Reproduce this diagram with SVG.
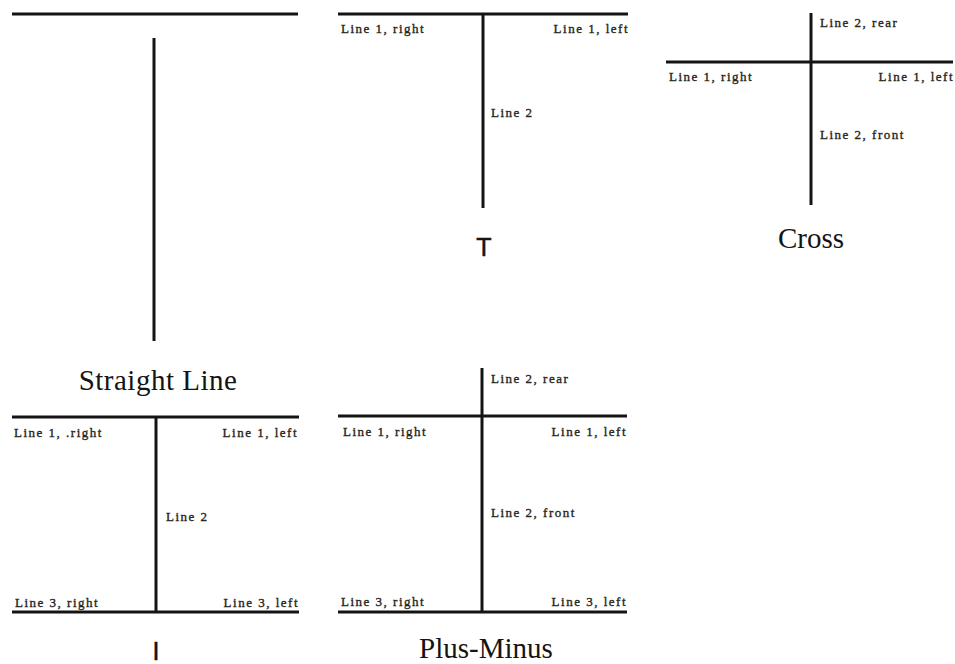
<svg xmlns="http://www.w3.org/2000/svg" width="955" height="664" viewBox="0 0 955 664">
<style>
.ln{stroke:#141414;stroke-width:3;stroke-linecap:butt;fill:none}
.lb{font-family:"Liberation Serif","DejaVu Serif",serif;font-size:13px;letter-spacing:1.5px;fill:#26261a;stroke:#26261a;stroke-width:0.35}
.end{text-anchor:end}
.cap{font-family:"Liberation Serif","DejaVu Serif",serif;font-size:29px;fill:#141414;text-anchor:middle}
.capS{font-family:"Liberation Sans","DejaVu Sans",sans-serif;font-size:25px;fill:#141414;stroke:#141414;stroke-width:0.5;text-anchor:middle}
</style>
<rect width="955" height="664" fill="#ffffff"/>
<g id="connectors">
  <!-- Straight Line -->
  <line class="ln" x1="12" y1="14" x2="298" y2="14"/>
  <line class="ln" x1="154" y1="38" x2="154" y2="341"/>
  <!-- T -->
  <line class="ln" x1="338" y1="14" x2="628" y2="14"/>
  <line class="ln" x1="483" y1="14" x2="483" y2="208"/>
  <!-- Cross -->
  <line class="ln" x1="666" y1="62" x2="953" y2="62"/>
  <line class="ln" x1="811" y1="13" x2="811" y2="205"/>
  <!-- I -->
  <line class="ln" x1="12" y1="417" x2="299" y2="417"/>
  <line class="ln" x1="156" y1="417" x2="156" y2="612"/>
  <line class="ln" x1="12" y1="612" x2="299" y2="612"/>
  <!-- Plus-Minus -->
  <line class="ln" x1="338" y1="416" x2="627" y2="416"/>
  <line class="ln" x1="482" y1="368" x2="482" y2="612"/>
  <line class="ln" x1="338" y1="612" x2="627" y2="612"/>
</g>
<g id="straight-line">
  <text class="cap" x="158" y="390" style="letter-spacing:0.5px">Straight Line</text>
</g>
<g id="t-junction">
  <text class="lb" x="341" y="33">Line 1, right</text>
  <text class="lb end" x="629" y="33">Line 1, left</text>
  <text class="lb" x="491" y="117">Line 2</text>
  <text class="capS" x="484" y="256">T</text>
</g>
<g id="cross">
  <text class="lb" x="820" y="27">Line 2, rear</text>
  <text class="lb" x="669" y="81">Line 1, right</text>
  <text class="lb end" x="954" y="81">Line 1, left</text>
  <text class="lb" x="820" y="139">Line 2, front</text>
  <text class="cap" x="811" y="248">Cross</text>
</g>
<g id="i-junction">
  <text class="lb" x="14" y="437">Line 1, .right</text>
  <text class="lb end" x="298" y="437">Line 1, left</text>
  <text class="lb" x="166" y="521">Line 2</text>
  <text class="lb" x="15" y="607">Line 3, right</text>
  <text class="lb end" x="299" y="607">Line 3, left</text>
  <text class="capS" x="156" y="660">I</text>
</g>
<g id="plus-minus">
  <text class="lb" x="491" y="383">Line 2, rear</text>
  <text class="lb" x="343" y="436">Line 1, right</text>
  <text class="lb end" x="627" y="436">Line 1, left</text>
  <text class="lb" x="491" y="517">Line 2, front</text>
  <text class="lb" x="341" y="606">Line 3, right</text>
  <text class="lb end" x="627" y="606">Line 3, left</text>
  <text class="cap" x="486" y="658">Plus-Minus</text>
</g>
</svg>
